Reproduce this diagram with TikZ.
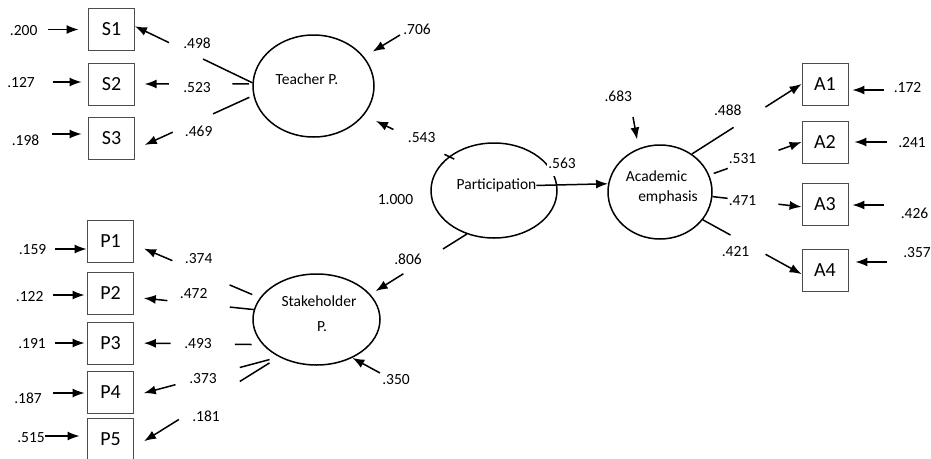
\documentclass[tikz,border=0pt]{standalone}
\usepackage{fontspec}
\setmainfont{Carlito}
\usetikzlibrary{shapes.geometric,arrows.meta,calc}

\tikzset{
	latent/.style={draw, ellipse, line width=1.5pt, inner sep=0pt},
	ind/.style={draw=black!70, line width=0.8pt, minimum width=46pt, minimum height=42pt, inner sep=0pt, font=\fontsize{20}{24}\selectfont},
	num/.style={inner sep=0pt, font=\fontsize{15.5}{18}\selectfont},
	txt/.style={inner sep=0pt, anchor=base, font=\fontsize{15.5}{18}\selectfont},
	link/.style={-{Latex[length=12pt,width=9pt]}, line width=1.5pt},
}

\begin{document}
\begin{tikzpicture}[x=1pt, y=-1pt]
		\useasboundingbox (0,0) rectangle (931,458);
		\node[latent, minimum width=121pt, minimum height=102pt] (tp) at (313.5,86) {};
		\node[latent, minimum width=126pt, minimum height=95pt] (part) at (494,190.5) {};
		\node[latent, minimum width=104pt, minimum height=94pt] (ae) at (660,192) {};
		\node[latent, minimum width=127pt, minimum height=91pt] (sp) at (316.5,319.5) {};
		\node[txt] (tp-t) at (307,84.5) {Teacher P.};
		\node[txt] (part-t) at (496.5,189.5) {Participation};
		\node[txt] (ae-t1) at (656.5,181.7) {Academic};
		\node[txt] (ae-t2) at (668,201) {emphasis};
		\node[txt] (sp-t1) at (319,306) {Stakeholder};
		\node[txt] (sp-t2) at (322,331.7) {P.};
		\foreach \b/\t/\x/\y in {s1/S1/111.5/29.5, s2/S2/111.5/84, s3/S3/111.5/138, p1/P1/110.5/241, p2/P2/110.5/293, p3/P3/110.5/343, p4/P4/110.5/392.5, p5/P5/110.5/439, a1/A1/825/84, a2/A2/825/142, a3/A3/825/204, a4/A4/825/270}{
			\node[ind] (\b) at (\x,\y) {\t};
		}
		\foreach \from/\to/\fa/\fb/\fc/\fd/\v/\lx/\ly [count=\i] in {
			tp.177/s1.8/0/.42/.71/1/.498/197/43,
			tp.178/s2.east/.03/.17/.71/.917/.523/197/87.7,
			tp.189/s3.334/.033/.34/.68/.917/.469/198.7/131,
			sp.159/p1.352/.06/.24/.694/.92/.374/198.7/259,
			sp.171/p2.350/0/.2/.72/.918/.472/193.7/294,
			sp.205/p3.east/.085/.215/.715/.923/.493/198/343.3,
			sp.225/p4.352/.065/.27/.713/.932/.373/203/378.3,
			sp.225/p5.340/.065/.27/.69/.93/.181/206/416,
			part.143/tp.330/-.064/.052/.653/.861/.543/421.7/138,
			part.238/sp.25/0/.247/.658/.946/.806/408/259,
			ae.50/a1.west/0/.38/.67/1/.488/727.8/110,
			ae.19/a2.west/.048/.2/.75/1/.531/742.5/159,
			ae.355/a3.187/0/.17/.74/1/.471/742.5/200.7,
			ae.327/a4.190/0/.28/.635/1/.421/735.5/251.7}{
			\draw[link] ($(\from)!\fa!(\to)$) -- ($(\from)!\fb!(\to)$) ($(\from)!\fc!(\to)$) -- ($(\from)!\fd!(\to)$);
			\node[num] (load\i) at (\lx,\ly) {\v};
		}
		\draw[link, shorten <=-21pt] (part.5) -- (ae.171);
		\node[num, fill=white, inner ysep=7pt, inner xsep=1pt] (load15) at (562,163.3) {.563};
		\node[num] (part-v) at (395.5,200) {1.000};
		\node[num] (tp-v) at (417,29) {.706};
		\node[num] (sp-v) at (396,380) {.350};
		\node[num] (ae-v) at (618.3,96.7) {.683};
		\coordinate (tp-e) at (400,35);
		\coordinate (sp-e) at (380,373);
		\coordinate (ae-e) at (633,117);
		\draw[link, shorten >=10pt] (tp-e) -- (tp.30);
		\draw[link] (sp-e) -- (sp.313);
		\draw[link, shorten >=9pt] (ae-e) -- (ae.116);
		\foreach \b/\v/\lx/\ly/\sx/\sy/\g in {s1/.200/23.7/31/48/29.5/9.5, s2/.127/21/83/53/82/6.5, s3/.198/25.5/140/52/134/6.5, p1/.159/32.5/250/55/249/0.5, p2/.122/29.7/297/53/295/2.5, p3/.191/32/344/55/343/2.5, p4/.187/28/398/53/393/2.5, p5/.515/31/438/45/436/7.5}{
			\node[num] (\b-v) at (\lx,\ly) {\v};
			\coordinate (\b-e) at (\sx,\sy);
			\draw[link, shorten >=\g pt] (\b-e) -- (\b-e -| \b.west);
		}
		\foreach \b/\v/\lx/\ly/\sx/\sy/\g in {a1/.172/907.5/88/884/90/4, a2/.241/912/143/887/142/6, a3/.426/914.5/213/884/205/4, a4/.357/917/253/887/262/7}{
			\node[num] (\b-v) at (\lx,\ly) {\v};
			\coordinate (\b-e) at (\sx,\sy);
			\draw[link, shorten >=\g pt] (\b-e) -- (\b-e -| \b.east);
		}
	\end{tikzpicture}
\end{document}
